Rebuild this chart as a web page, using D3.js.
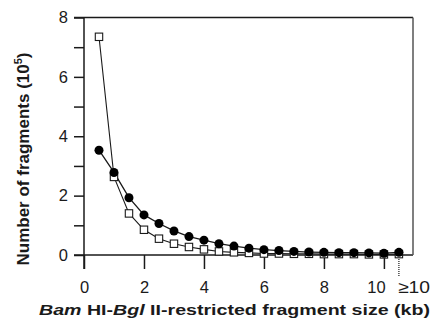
<!DOCTYPE html>
<html>
<head>
<meta charset="utf-8">
<script src="https://cdn.jsdelivr.net/npm/d3@7"></script>
<style>
  body { margin: 0; background: #fff; }
  text { font-family: "Liberation Sans", Arial, sans-serif; }
</style>
</head>
<body>
<div id="chart"></div>
<script>
const W = 432, H = 326;

// fragment size bins (kb), last one is ">=10"
const sizes = [0.5, 1, 1.5, 2, 2.5, 3, 3.5, 4, 4.5, 5, 5.5, 6, 6.5, 7, 7.5, 8, 8.5, 9, 9.5, 10, 10.5];
// filled circles
const circleVals = [3.53, 2.78, 1.93, 1.35, 1.06, 0.81, 0.62, 0.50, 0.38, 0.30, 0.23, 0.18, 0.15, 0.12, 0.10, 0.09, 0.08, 0.08, 0.07, 0.06, 0.09];
// open squares
const squareVals = [7.35, 2.63, 1.40, 0.85, 0.55, 0.38, 0.27, 0.19, 0.12, 0.09, 0.07, 0.05, 0.05, 0.04, 0.04, 0.03, 0.03, 0.03, 0.02, 0.02, 0.03];
const yTicks = [0, 1, 2, 3, 4, 5, 6, 7, 8];
const xTicks = [0, 2, 4, 6, 8, 10];

const svg = d3.select('#chart').append('svg')
  .attr('width', W)
  .attr('height', H);

const x = d3.scaleLinear().domain([0, 10.97]).range([84, 413]);
const y = d3.scaleLinear().domain([0, 8]).range([255, 17.5]);

const ink = '#1a1a1a';

// y axis ticks + labels (only even numbers labelled)
const yAxis = d3.axisLeft(y)
  .tickValues(yTicks)
  .tickSize(10)
  .tickPadding(6)
  .tickFormat(d => d % 2 === 0 ? d : '');
const gy = svg.append('g').attr('transform', `translate(${x(0)},0)`).call(yAxis);
gy.select('.domain').remove();
gy.selectAll('line').attr('stroke', ink).attr('stroke-width', 1.5);
gy.selectAll('text').style('font-size', '16.5px').attr('fill', ink);

// x axis ticks + labels
const xAxis = d3.axisBottom(x)
  .tickValues(xTicks)
  .tickSize(14)
  .tickPadding(12);
const gx = svg.append('g').attr('transform', `translate(0,${y(0)})`).call(xAxis);
gx.select('.domain').remove();
gx.selectAll('line').attr('stroke', ink).attr('stroke-width', 1.5);
gx.selectAll('text').style('font-size', '16.5px').attr('fill', ink)
  .attr('dx', d => d === 10 ? -8 : 0); // nudged left to make room for the >=10 label

// frame lines
const frame = svg.append('g').attr('stroke', ink).attr('stroke-width', 1.5).attr('fill', 'none');
frame.append('line').attr('x1', x(0)).attr('x2', x(0)).attr('y1', y(8)).attr('y2', y(0) + 14); // left axis
frame.append('line').attr('x1', x(0) - 10).attr('x2', x(10.97)).attr('y1', y(0)).attr('y2', y(0)); // bottom
frame.append('line').attr('x1', x(0) - 10).attr('x2', x(10.97)).attr('y1', y(8)).attr('y2', y(8)); // top
frame.append('line').attr('x1', x(10.97)).attr('x2', x(10.97)).attr('y1', y(8)).attr('y2', y(0)).attr('stroke', '#555'); // right

// dotted tick for the >=10 bin
svg.append('line')
  .attr('x1', x(10.5)).attr('x2', x(10.5))
  .attr('y1', y(0)).attr('y2', y(0) + 22)
  .attr('stroke', ink).attr('stroke-width', 1.2)
  .attr('stroke-dasharray', '1,1');
svg.append('text')
  .attr('x', x(10.5) - 1).attr('y', 293)
  .style('font-size', '16.5px').attr('fill', ink)
  .attr('textLength', 32).attr('lengthAdjust', 'spacingAndGlyphs')
  .text('≥10');

// lines
const line = d3.line().x((d, i) => x(sizes[i])).y(d => y(d));
svg.append('path').datum(squareVals).attr('d', line)
  .attr('fill', 'none').attr('stroke', ink).attr('stroke-width', 1.1);
svg.append('path').datum(circleVals).attr('d', line)
  .attr('fill', 'none').attr('stroke', ink).attr('stroke-width', 1.3);

// square markers
svg.append('g').selectAll('rect').data(squareVals).join('rect')
  .attr('x', (d, i) => x(sizes[i]) - 3.7)
  .attr('y', d => y(d) - 3.7)
  .attr('width', 7.4).attr('height', 7.4)
  .attr('fill', '#fff').attr('stroke', ink).attr('stroke-width', 1.1);

// circle markers
svg.append('g').selectAll('circle').data(circleVals).join('circle')
  .attr('cx', (d, i) => x(sizes[i]))
  .attr('cy', d => y(d))
  .attr('r', 4.5)
  .attr('fill', '#000');

// axis titles (reference type is wide, so stretch to the measured length)
const xt = svg.append('text')
  .attr('x', 39).attr('y', 315)
  .attr('textLength', 391).attr('lengthAdjust', 'spacingAndGlyphs')
  .style('font-size', '15.5px').style('font-weight', 'bold').attr('fill', ink);
xt.append('tspan').style('font-style', 'italic').text('Bam');
xt.append('tspan').text(' HI-');
xt.append('tspan').style('font-style', 'italic').text('Bgl');
xt.append('tspan').text(' II-restricted fragment size (kb)');

const yt = svg.append('text')
  .attr('transform', `translate(29,159) rotate(-90)`)
  .attr('text-anchor', 'middle')
  .style('font-size', '17px').style('font-weight', 'bold').attr('fill', ink);
yt.append('tspan').text('Number of fragments (10');
yt.append('tspan').attr('dy', -7).style('font-size', '11px').text('5');
yt.append('tspan').attr('dy', 7).text(')');
</script>
</body>
</html>
